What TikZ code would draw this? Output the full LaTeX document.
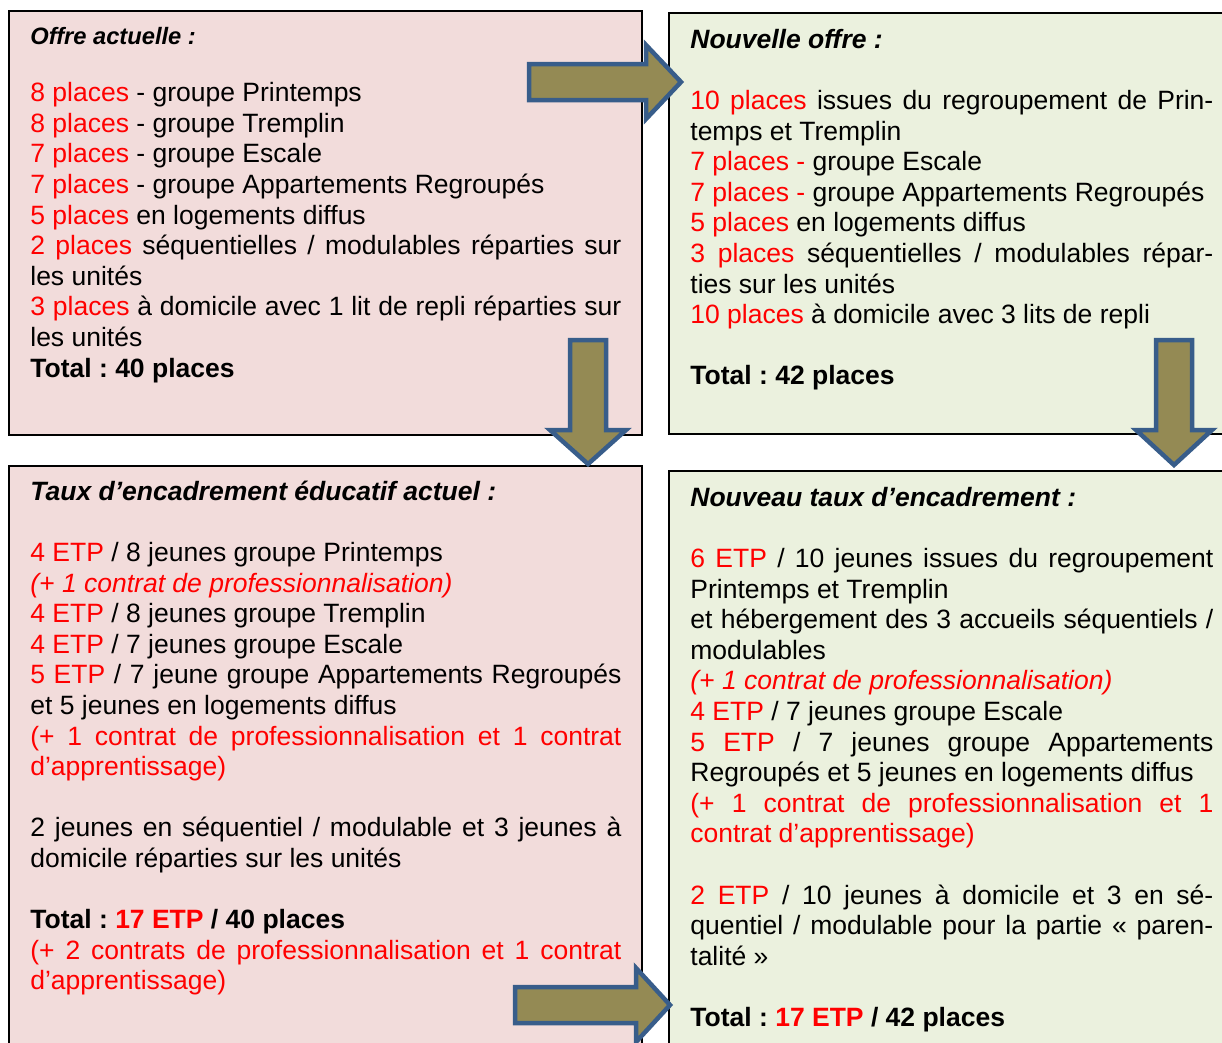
\documentclass[tikz,border=0pt]{standalone}
\usepackage{fontspec}
\setmainfont{Liberation Sans}
\usetikzlibrary{positioning}

\definecolor{pinkfill}{RGB}{242,220,219}
\definecolor{greenfill}{RGB}{235,241,222}
\definecolor{arrowfill}{RGB}{148,138,84}
\definecolor{arrowline}{RGB}{56,93,138}
\newcommand{\redtxt}[1]{\textcolor{red}{#1}}
\newcommand{\justbody}{\leftskip=0pt\relax\rightskip=0pt\relax
  \spaceskip=0pt\relax\xspaceskip=0pt\relax
  \parfillskip=0pt plus 1fil\relax\hyphenpenalty=10000\relax\tolerance=10000\relax}
\frenchspacing

\tikzset{every picture/.style={line width=0.75pt}}
\tikzset{
  panel/.style={draw=black,line width=2pt},
  bodytext/.style={anchor=base west,inner sep=0pt,
    font=\fontsize{26.5}{30.6}\selectfont},
  headtext/.style={anchor=base west,inner sep=0pt,
    font=\fontsize{26.5}{30.6}\selectfont\bfseries\itshape},
  blockarrow/.style={fill=arrowfill,draw=arrowline,line width=4.5pt,line join=miter}
}

\begin{document}
\begin{tikzpicture}[x=1pt,y=1pt,yscale=-1,xscale=1]
        \useasboundingbox (0,0) rectangle (1222,1042);
        \begin{scope}
        \clip (0,0) rectangle (1222,1042);

        %Shape: Rectangle [offre actuelle]
        \draw [panel,fill=pinkfill] (9,11) rectangle (642,435);
        %Shape: Rectangle [nouvelle offre]
        \draw [panel,fill=greenfill] (669,13) rectangle (1240,434);
        %Shape: Rectangle [taux actuel]
        \draw [panel,fill=pinkfill] (9,466) rectangle (642,1060);
        %Shape: Rectangle [nouveau taux]
        \draw [panel,fill=greenfill] (669,471) rectangle (1240,1060);

        %Shape: Right Arrow [top]
        \draw [blockarrow] (529,64) -- (646,64) -- (646,45) -- (681,82) -- (646,119) -- (646,100) -- (529,100) -- cycle;
        %Shape: Down Arrow [left]
        \draw [blockarrow] (570,340) -- (606,340) -- (606,430) -- (626,430) -- (588,464) -- (550,430) -- (570,430) -- cycle;
        %Shape: Down Arrow [right]
        \draw [blockarrow] (1156,340) -- (1192,340) -- (1192,430) -- (1212,430) -- (1174,465) -- (1136,430) -- (1156,430) -- cycle;
        %Shape: Right Arrow [bottom]
        \draw [blockarrow] (515,987) -- (636,987) -- (636,968) -- (670,1005) -- (636,1042) -- (636,1023) -- (515,1023) -- cycle;
        \end{scope}

        % Text Node
        \node [headtext,font=\fontsize{23.7}{28}\selectfont\bfseries\itshape] (offreHead) at (30,44.3) {Offre actuelle :};
        % Text Node
        \node [bodytext,text width=591pt] (offreBody) at (30,101.7) {\justbody
\redtxt{8 places} - groupe Printemps\\
\redtxt{8 places} - groupe Tremplin\\
\redtxt{7 places} - groupe Escale\\
\redtxt{7 places} - groupe Appartements Regroupés\\
\redtxt{5 places} en logements diffus\\
\redtxt{2 places} séquentielles / modulables réparties sur\linebreak les unités\\
\redtxt{3 places} à domicile avec 1 lit de repli réparties sur\linebreak les unités\\
\textbf{Total : 40 places}\par};

        % Text Node
        \node [headtext] (nouvelleHead) at (690,48) {Nouvelle offre :};
        % Text Node
        \node [bodytext,text width=523pt] (nouvelleBody) at (690,109.5) {\justbody
\redtxt{10 places} issues du regroupement de Prin-\linebreak temps et Tremplin\\
\redtxt{7 places -} groupe Escale\\
\redtxt{7 places -} groupe Appartements Regroupés\\
\redtxt{5 places} en logements diffus\\
\redtxt{3 places} séquentielles / modulables répar-\linebreak ties sur les unités\\
\redtxt{10 places} à domicile avec 3 lits de repli\\[30.6pt]
\textbf{Total : 42 places}\par};

        % Text Node
        \node [headtext] (tauxHead) at (30,500.5) {Taux d’encadrement éducatif actuel :};
        % Text Node
        \node [bodytext,text width=591pt] (tauxBody) at (30,561.5) {\justbody
\redtxt{4 ETP} / 8 jeunes groupe Printemps\\
\redtxt{\itshape (+ 1 contrat de professionnalisation)}\\
\redtxt{4 ETP} / 8 jeunes groupe Tremplin\\
\redtxt{4 ETP} / 7 jeunes groupe Escale\\
\redtxt{5 ETP} / 7 jeune groupe Appartements Regroupés\linebreak et 5 jeunes en logements diffus\\
\redtxt{(+ 1 contrat de professionnalisation et 1 contrat\linebreak d’apprentissage)}\\[30.6pt]
2 jeunes en séquentiel / modulable et 3 jeunes à\linebreak domicile réparties sur les unités\\[30.6pt]
\textbf{Total : \redtxt{17 ETP} / 40 places}\\
\redtxt{(+ 2 contrats de professionnalisation et 1 contrat\linebreak d’apprentissage)}\par};

        % Text Node
        \node [headtext] (nouveauHead) at (690,506.5) {Nouveau taux d’encadrement :};
        % Text Node
        \node [bodytext,text width=523pt] (nouveauBody) at (690,567.5) {\justbody
\redtxt{6 ETP} / 10 jeunes issues du regroupement\linebreak Printemps et Tremplin\\
et hébergement des 3 accueils séquentiels /\linebreak modulables\\
\redtxt{\itshape (+ 1 contrat de professionnalisation)}\\
\redtxt{4 ETP} / 7 jeunes groupe Escale\\
\redtxt{5 ETP} / 7 jeunes groupe Appartements\linebreak Regroupés et 5 jeunes en logements diffus\\
\redtxt{(+ 1 contrat de professionnalisation et 1\linebreak contrat d’apprentissage)}\\[30.6pt]
\redtxt{2 ETP} / 10 jeunes à domicile et 3 en sé-\linebreak quentiel / modulable pour la partie «~paren-\linebreak talité~»\\[30.6pt]
\textbf{Total : \redtxt{17 ETP} / 42 places}\par};
\end{tikzpicture}
\end{document}
